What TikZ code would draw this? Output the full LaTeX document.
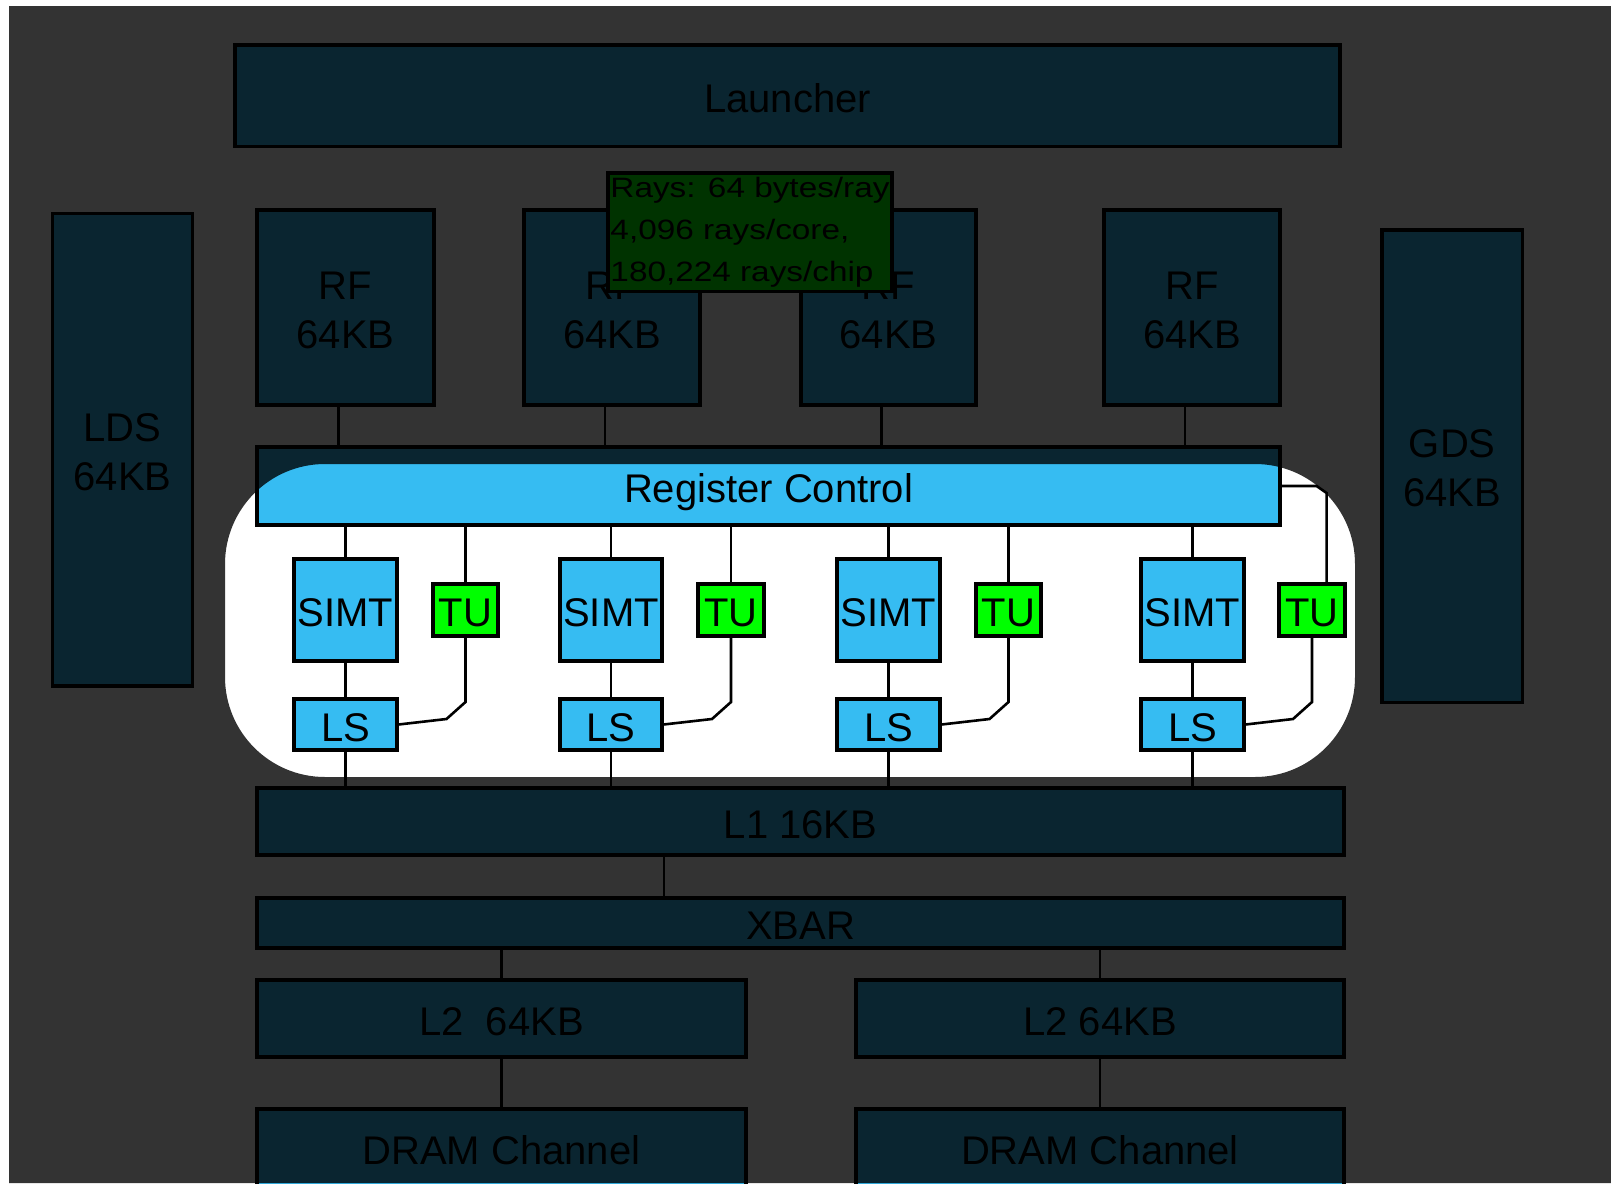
\documentclass[tikz,border=0pt]{standalone}
\usepackage{graphicx}
\usepackage{fontspec}
\setmainfont{Liberation Sans}

\definecolor{unitblue}{RGB}{54,188,242}
\definecolor{tugreen}{RGB}{0,255,0}

% two centred lines whose baseline is the last line
\newcommand\twolines[2]{\vbox{\halign{\hfil##\hfil\cr #1\cr #2\cr}}}

\begin{document}
\begin{tikzpicture}[x=0.5pt,y=-0.5pt,
  every node/.style={font=\fontsize{20}{24.5}\selectfont, text=black, inner sep=0pt},
  box/.style={draw=black, line width=1.6pt, fill=unitblue, inner sep=0pt,
    text height=16.8pt, text depth=0pt},
  tallbox/.style={box, text height=40.6pt, text depth=0pt},
  tubox/.style={box, fill=tugreen},
  wire/.style={draw=black, line width=1.3pt},
  % place a box by its left, top, right and bottom edges (in pixels)
  span/.style n args={4}{at={({(#1+#3)/2},{(#2+#4)/2})},
    minimum width={(#3-#1)*0.5pt}, minimum height={(#4-#2)*0.5pt}},
]
\clip (0,0) rectangle (1611,1183);
\fill[white] (0,0) rectangle (1611,1183);

% launcher, shared memories and register files
\node[box, span={235}{45}{1340}{146.5}] (launcher) {Launcher};
\node[tallbox, span={52.5}{213.5}{192.5}{686}] (lds) {\twolines{LDS}{64KB}};
\node[tallbox, span={1382}{230}{1522.5}{702.5}] (gds) {\twolines{GDS}{64KB}};
\node[tallbox, span={257}{210}{434}{405}] (rf1) {\twolines{RF}{64KB}};
\node[tallbox, span={524}{210}{700}{405}] (rf2) {\twolines{RF}{64KB}};
\node[tallbox, span={801}{210}{976}{405}] (rf3) {\twolines{RF}{64KB}};
\node[tallbox, span={1104}{210}{1280}{405}] (rf4) {\twolines{RF}{64KB}};

% ray storage note
\node[draw=black, line width=1.6pt, fill=tugreen, span={608}{173}{892}{291.5},
      font=\fontsize{14}{21}\selectfont] (rays)
  {\scalebox{1.19}[1]{\vbox{\hbox{Rays: 64 bytes/ray}\hbox{4,096 rays/core,}\hbox{180,224 rays/chip}}}};

% register control
\node[box, span={257}{447}{1280}{525}] (rc) {Register Control};

% SIMT lanes, texture units and load/store units
\node[box, span={294}{559}{397}{661}] (simt1) {SIMT};
\node[box, span={560}{559}{662}{661}] (simt2) {SIMT};
\node[box, span={837}{559}{940}{661}] (simt3) {SIMT};
\node[box, span={1141}{559}{1244}{661}] (simt4) {SIMT};
\node[tubox, span={433}{584}{498}{636}] (tu1) {TU};
\node[tubox, span={698}{584}{764}{636}] (tu2) {TU};
\node[tubox, span={976}{584}{1041}{636}] (tu3) {TU};
\node[tubox, span={1279}{584}{1345}{636}] (tu4) {TU};
\node[box, span={294}{699}{397}{750}] (ls1) {LS};
\node[box, span={560}{699}{662}{750}] (ls2) {LS};
\node[box, span={837}{699}{940}{750}] (ls3) {LS};
\node[box, span={1141}{699}{1244}{750}] (ls4) {LS};

% memory hierarchy
\node[box, span={257}{788}{1344}{855}] (l1) {L1 16KB};
\node[box, span={257}{898}{1344}{948}] (xbar) {XBAR};
\node[box, span={257}{980}{746}{1057}] (l2a) {L2\ \ 64KB};
\node[box, span={856}{980}{1344}{1057}] (l2b) {L2 64KB};
\node[box, span={257}{1109}{746}{1187}] (drama) {DRAM Channel};
\node[box, span={856}{1109}{1344}{1187}] (dramb) {DRAM Channel};

% register files to register control
\foreach \i in {1,...,4}
  \draw[wire] ([xshift=-3.5pt]rf\i.south) -- ([xshift=-3.5pt]rf\i.south |- rc.north);

% register control to lanes, lanes to L1
\foreach \i in {1,...,4} {
  \draw[wire] (simt\i.north |- rc.south) -- (simt\i.north);
  \draw[wire] (simt\i.south) -- (ls\i.north);
  \draw[wire] (ls\i.south) -- (ls\i.south |- l1.north);
  \draw[wire] (tu\i.south) -- (tu\i.south |- 0,702) -- ++(-19,17) -- (ls\i.east);
}
\foreach \i in {1,...,3}
  \draw[wire] (tu\i.north |- rc.south) -- (tu\i.north);
\path (rc.east) ++(45,7) coordinate (tu4bend);
\draw[wire] (rc.east) -- ++(35,0) -- (tu4bend) -- (tu4bend |- tu4.north);

% L1 / XBAR / L2 / DRAM
\draw[wire] ([xshift=-68.25pt]l1.south) -- ([xshift=-68.25pt]l1.south |- xbar.north);
\draw[wire] (l2a.north |- xbar.south) -- (l2a.north);
\draw[wire] (l2b.north |- xbar.south) -- (l2b.north);
\draw[wire] (l2a.south) -- (drama.north);
\draw[wire] (l2b.south) -- (dramb.north);

% dimming layer with the highlighted core region left open
\fill[black, fill opacity=0.8, even odd rule] (9,6) rectangle (1611,1183)
  {[rounded corners=50pt] (225,464) rectangle (1355,777)};
\end{tikzpicture}
\end{document}
